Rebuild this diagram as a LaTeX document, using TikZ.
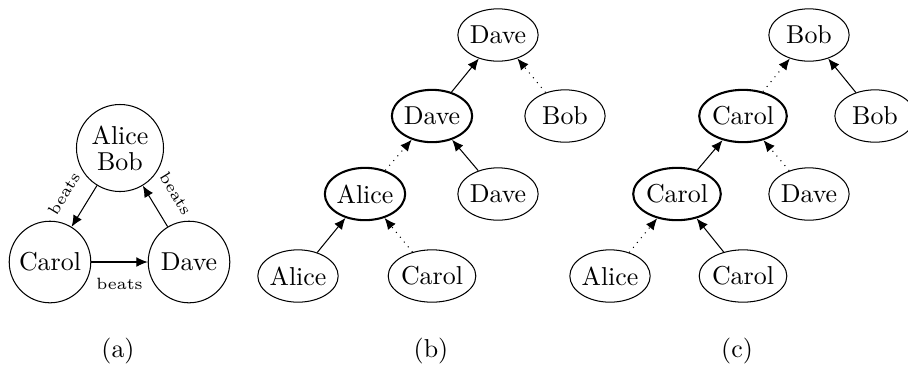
\documentclass[tikz,border=0pt]{standalone}
\usetikzlibrary{shapes.geometric,arrows.meta}
\tikzset{
  px/.style={x=0.3861pt,y=-0.3861pt},
  circ/.style={draw,circle,inner sep=0pt,minimum size=31.5pt},
  circab/.style={draw,circle,inner sep=0pt,minimum size=33.6pt,align=center},
  leaf/.style={draw,ellipse,inner sep=0pt,minimum width=31pt,minimum height=20.2pt},
  inner/.style={leaf,thick},
  arr/.style={-{Latex[length=4.4pt,width=3.8pt]}},
  win/.style={arr},
  lose/.style={arr,dotted},
  lbl/.style={font=\fontsize{6.3}{7}\selectfont}
}
\begin{document}
\begin{tikzpicture}[px]
\useasboundingbox (0,0) rectangle (908,367);
% (a)
\node[circab] (ab) at (120,148) {Alice\\[-2pt]Bob};
\node[circ] (carol) at (50,262) {Carol};
\node[circ] (dave) at (189,262) {Dave};
\draw[arr] (ab) -- node[lbl,midway,sloped,above=3.5pt] {beats} (carol);
\draw[arr] (dave) -- node[lbl,midway,sloped,above=3.5pt] {beats} (ab);
\draw[arr] (carol) -- node[lbl,midway,below=2.8pt] {beats} (dave);
\node (capa) at (118,351) {(a)};
% (b)
\node[leaf] (b1) at (498,35) {Dave};
\node[inner] (b2) at (432,116) {Dave};
\node[leaf] (b3) at (565,116) {Bob};
\node[inner] (b4) at (365,194) {Alice};
\node[leaf] (b5) at (498,194) {Dave};
\node[leaf] (b6) at (298,276) {Alice};
\node[leaf] (b7) at (432,276) {Carol};
\draw[win] (b2) -- (b1);
\draw[lose] (b3) -- (b1);
\draw[lose] (b4) -- (b2);
\draw[win] (b5) -- (b2);
\draw[win] (b6) -- (b4);
\draw[lose] (b7) -- (b4);
\node (capb) at (431,351) {(b)};
% (c)
\node[leaf] (c1) at (809,35) {Bob};
\node[inner] (c2) at (743,116) {Carol};
\node[leaf] (c3) at (875,116) {Bob};
\node[inner] (c4) at (677,194) {Carol};
\node[leaf] (c5) at (809,194) {Dave};
\node[leaf] (c6) at (610,276) {Alice};
\node[leaf] (c7) at (743,276) {Carol};
\draw[lose] (c2) -- (c1);
\draw[win] (c3) -- (c1);
\draw[win] (c4) -- (c2);
\draw[lose] (c5) -- (c2);
\draw[lose] (c6) -- (c4);
\draw[win] (c7) -- (c4);
\node (capc) at (737,351) {(c)};
\end{tikzpicture}
\end{document}
